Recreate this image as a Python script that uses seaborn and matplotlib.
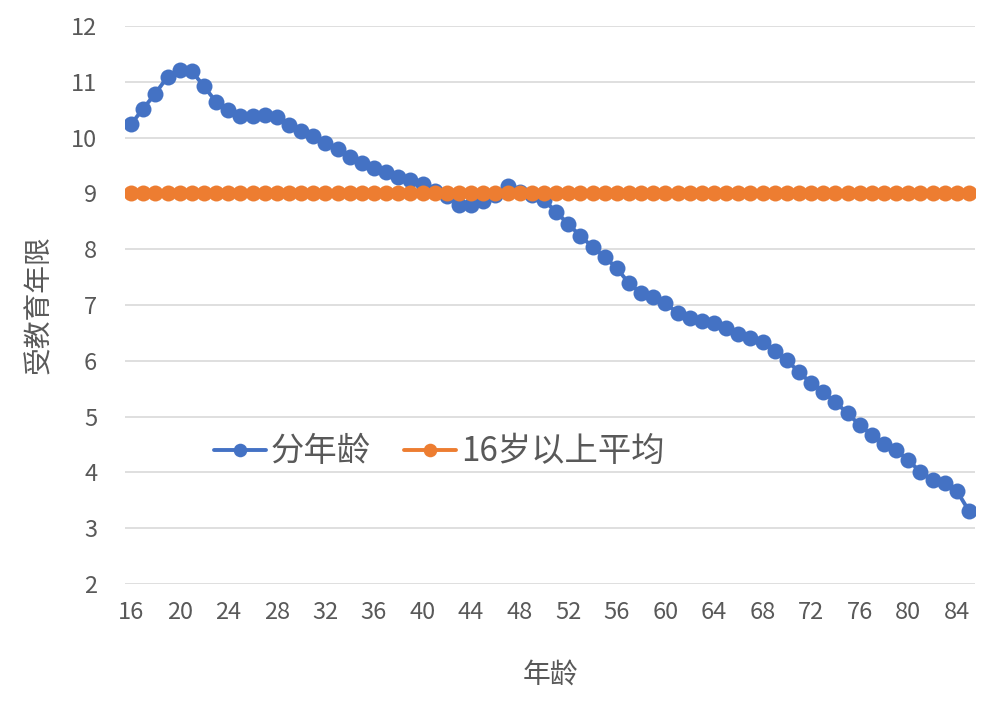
import matplotlib
matplotlib.use('Agg')
import matplotlib.pyplot as plt
import seaborn as sns
import pandas as pd

ages = list(range(16, 86))
edu_years = [10.24, 10.52, 10.79, 11.09, 11.21, 11.19, 10.92, 10.64, 10.49, 10.39,
             10.39, 10.41, 10.37, 10.23, 10.11, 10.02, 9.90, 9.79, 9.66, 9.55,
             9.46, 9.38, 9.30, 9.24, 9.17, 9.05, 8.95, 8.80, 8.80, 8.86,
             8.97, 9.13, 9.02, 8.97, 8.88, 8.67, 8.45, 8.24, 8.04, 7.86,
             7.66, 7.39, 7.21, 7.14, 7.03, 6.86, 6.77, 6.71, 6.68, 6.59,
             6.48, 6.41, 6.34, 6.18, 6.01, 5.80, 5.60, 5.44, 5.26, 5.06,
             4.85, 4.67, 4.51, 4.40, 4.22, 4.01, 3.86, 3.81, 3.67, 3.31]
avg_16plus = [9.0] * len(ages)
x_ticks = list(range(16, 85, 4))
y_ticks = list(range(2, 13))

df = pd.DataFrame({'age': ages, '分年龄': edu_years, '16岁以上平均': avg_16plus})

sns.set_style('white')
plt.rcParams['font.family'] = ['Noto Sans CJK SC', 'DejaVu Sans']

fig = plt.figure(figsize=(10, 7.06), dpi=100)
ax = fig.add_axes([0.125, 0.1728, 0.85, 0.7904])

blue = '#4472C4'
orange = '#ED7D31'
sns.lineplot(data=df, x='age', y='分年龄', ax=ax, color=blue, lw=2.8,
             marker='o', markersize=11.5, markeredgewidth=0, label='分年龄')
sns.lineplot(data=df, x='age', y='16岁以上平均', ax=ax, color=orange, lw=2.8,
             marker='o', markersize=11.5, markeredgewidth=0, label='16岁以上平均')

ax.set_xlim(15.5, 85.5)
ax.set_ylim(2, 12)
ax.set_xticks(x_ticks)
ax.set_yticks(y_ticks)
ax.yaxis.grid(True, color='#D9D9D9', lw=1.2)
ax.set_axisbelow(True)
for s in ax.spines.values():
    s.set_visible(False)
ax.tick_params(axis='both', length=0, labelsize=17, colors='#595959', pad=12)
ax.tick_params(axis='y', pad=20)

ax.set_xlabel('年龄', fontsize=20, color='#595959', labelpad=26)
ax.set_ylabel('受教育年限', fontsize=20, color='#595959', labelpad=12)

ax.legend(loc='center left', bbox_to_anchor=(0.105, 0.237), ncol=2, frameon=False,
          fontsize=24, handlelength=1.55, handletextpad=0.15, columnspacing=1.0,
          borderpad=0, borderaxespad=0, markerscale=0.85, labelcolor='#595959')

fig.savefig('out.png', dpi=100)
